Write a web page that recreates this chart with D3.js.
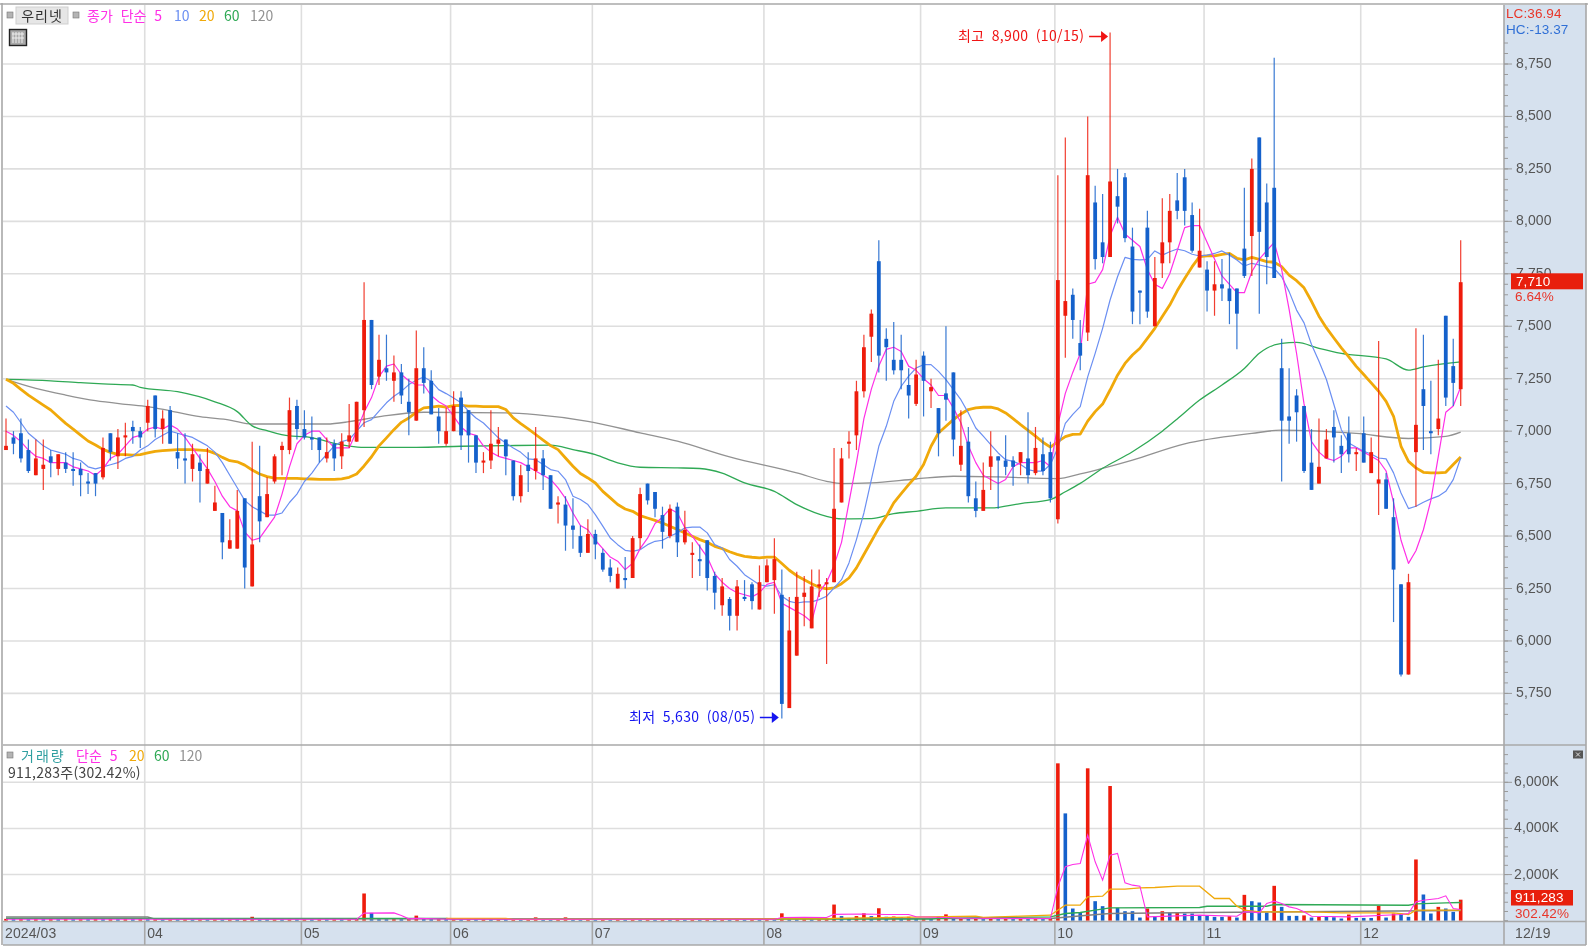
<!DOCTYPE html>
<html lang="ko">
<head>
<meta charset="utf-8">
<title>우리넷 일봉 차트</title>
<script src="https://cdn.jsdelivr.net/npm/d3@7"></script>
<style>
html,body{margin:0;padding:0;background:#fff;overflow:hidden}
svg{display:block;filter:blur(.35px)}
text{font-family:"Noto Sans CJK KR","Noto Sans",sans-serif;font-size:14px}
text.num{font-family:"Liberation Sans","Noto Sans",sans-serif}
</style>
</head>
<body>
<div id="chart"></div>
<script>
const high=[7060,7000,7060,6960,6960,6960,6910,6890,6900,6900,
6850,6800,6800,6970,6990,7010,7040,7050,7020,7150,
7170,7100,7120,6990,6990,6940,6890,6920,6740,6610,
6580,6720,6680,6950,6930,6780,6890,6950,7160,7150,
7100,7070,6970,6970,6960,6990,7130,7140,7710,7530,
7460,7460,7360,7320,7250,7480,7400,7290,7110,7110,
7190,7190,7100,6980,6900,7100,7020,6960,6860,6840,
6900,7020,6910,6790,6690,6690,6680,6550,6580,6530,
6440,6390,6350,6400,6500,6730,6750,6710,6640,6650,
6660,6620,6470,6460,6480,6330,6300,6210,6290,6290,
6280,6360,6390,6490,6340,6210,6330,6310,6340,6340,
6300,6920,6920,7000,7240,7460,7580,7910,7490,7520,
7460,7300,7340,7380,7250,7110,7500,7280,7100,7020,
6760,6850,7000,6880,6980,6880,6900,7090,7020,6970,
6950,8220,8400,7680,7530,8500,8170,8130,8900,8250,
8230,7970,7670,8050,7830,8110,8130,8230,8250,8090,
8060,7810,7810,7820,7850,7680,8160,8300,8400,8180,
8780,7440,7300,7200,7120,7010,7060,7010,7100,6980,
7070,6920,7070,6970,7430,6800,6680,6270,6320,7490,
7460,7240,7340,7550,7440,7910];
const low=[6910,6890,6850,6800,6790,6720,6780,6790,6800,6740,
6690,6700,6690,6770,6860,6820,6880,6940,6920,7000,
6970,6940,6940,6820,6750,6760,6660,6750,6620,6390,
6440,6440,6250,6260,6470,6590,6750,6790,6890,6960,
6960,6910,6850,6850,6810,6820,6920,6950,7020,7200,
7220,7240,7140,7130,6980,7050,7180,7080,6940,6930,
7000,6910,6850,6800,6800,6820,6880,6790,6670,6660,
6710,6770,6720,6630,6560,6430,6440,6400,6420,6390,
6330,6280,6250,6250,6300,6440,6650,6590,6440,6490,
6400,6460,6300,6310,6240,6150,6120,6050,6050,6190,
6150,6150,6280,6130,5630,5680,5930,6070,6060,6210,
5890,6280,6660,6870,6910,7160,7330,7280,7240,7270,
7200,7060,7120,7070,7110,6880,7050,6880,6810,6660,
6590,6620,6720,6630,6790,6740,6790,6750,6790,6790,
6660,6560,7350,7440,7290,7430,7770,7800,7830,7990,
7900,7510,7510,7540,7500,7730,7800,8010,7980,7850,
7780,7570,7550,7620,7510,7390,7730,7740,7560,7700,
7730,6760,6940,6950,6800,6720,6750,6870,6850,6800,
6850,6810,6850,6800,6600,6630,6090,5830,5840,6640,
6910,6890,6980,7120,7120,7120];
const open=[6910,6970,6990,6910,6790,6820,6880,6820,6850,6820,
6820,6760,6800,6780,6990,6880,6970,7020,7000,7040,
7170,7010,7100,6900,6870,6820,6850,6750,6620,6610,
6440,6440,6680,6260,6690,6590,6760,6910,6910,7120,
7010,6970,6970,6870,6940,6880,6950,6950,7100,7530,
7260,7300,7240,7280,7140,7050,7300,7240,7070,6940,
7000,7160,7100,6980,6850,6860,6940,6960,6860,6690,
6840,6810,6870,6790,6650,6650,6550,6500,6420,6510,
6420,6350,6250,6300,6300,6490,6750,6710,6600,6500,
6640,6470,6410,6390,6480,6310,6170,6200,6120,6210,
6270,6150,6280,6290,6220,5680,5930,6210,6060,6260,
6270,6280,6660,6940,6980,7190,7450,7810,7440,7340,
7340,7220,7130,7360,7190,7110,7180,7280,6840,6950,
6680,6620,6830,6880,6860,6860,6850,6870,6800,6890,
6900,6580,7550,7650,7420,7470,8090,7900,7830,8120,
8210,7880,7670,7970,7500,7800,7900,8100,8210,8030,
7780,7770,7670,7700,7680,7680,7870,7930,8400,8090,
8160,7300,7070,7170,7120,6850,6750,6870,7020,6930,
6990,6890,6990,6800,6750,6770,6590,6270,5840,6900,
7200,7000,7010,7550,7310,7200];
const close=[6930,6940,6870,6810,6870,6840,6850,6890,6820,6810,
6790,6750,6750,6920,6900,6970,6980,7000,6970,7120,
7010,7060,6940,6870,6860,6890,6810,6820,6660,6470,
6480,6620,6350,6460,6570,6700,6880,6930,7100,7010,
6970,6960,6910,6900,6870,6950,6980,7140,7530,7220,
7340,7280,7280,7170,7090,7300,7230,7080,7000,7000,
7120,6980,6980,6850,6860,6940,6960,6880,6690,6790,
6810,6870,6790,6630,6660,6550,6530,6420,6510,6460,
6340,6310,6320,6290,6490,6700,6670,6630,6520,6630,
6470,6530,6420,6380,6300,6230,6260,6120,6260,6200,
6190,6280,6360,6390,5700,6050,6210,6230,6260,6270,
6280,6630,6870,6950,7190,7400,7560,7360,7400,7290,
7290,7170,7270,7240,7210,6990,7150,6960,6930,6690,
6620,6720,6880,6860,6830,6830,6900,6790,6920,6810,
6680,7720,7620,7530,7360,8220,7820,7830,8190,8070,
7920,7570,7660,7570,7730,7900,8050,8050,8050,7860,
7860,7670,7700,7680,7620,7560,7740,8250,7950,7830,
7730,7050,7050,7090,6810,6720,6830,6960,6970,6890,
6890,6900,6850,6900,6770,6630,6340,5840,6280,7030,
7120,6990,7060,7160,7230,7710];
const ma5=[7000,6980,6950,6910,6880,6870,6850,6850,6850,6830,
6820,6810,6790,6820,6870,6890,6930,6970,6980,7010,
7020,7010,7030,7010,6970,6920,6870,6820,6760,6690,
6640,6620,6520,6480,6490,6540,6590,6700,6830,6940,
6980,7000,7000,6960,6920,6920,6920,7000,7090,7160,
7260,7310,7320,7270,7240,7220,7220,7170,7140,7120,
7070,7020,6990,6980,6930,6900,6880,6870,6860,6850,
6830,6810,6790,6770,6730,6680,6610,6550,6530,6480,
6440,6400,6380,6340,6370,6440,6490,6560,6590,6630,
6610,6540,6500,6450,6400,6320,6280,6250,6230,6220,
6210,6230,6270,6280,6180,6160,6140,6120,6090,6230,
6280,6360,6470,6660,6850,7060,7200,7310,7390,7400,
7380,7310,7290,7250,7220,7170,7170,7110,7040,6930,
6850,6790,6770,6750,6770,6830,6850,6850,6850,6860,
6830,7030,7180,7280,7370,7700,7710,7770,7930,8020,
7940,7910,7880,7770,7700,7680,7750,7860,7970,7980,
7980,7900,7820,7740,7700,7660,7660,7760,7820,7860,
7900,7770,7580,7370,7130,6950,6900,6870,6860,6880,
6920,6920,6900,6880,6860,6810,6660,6480,6370,6430,
6530,6670,6880,7090,7120,7210];
const ma10=[7120,7090,7040,6990,6960,6930,6910,6900,6890,6870,
6860,6830,6820,6830,6840,6850,6870,6880,6910,6930,
6960,6980,7000,6990,6980,6970,6950,6930,6900,6850,
6790,6730,6670,6640,6620,6600,6600,6610,6660,6700,
6760,6800,6850,6890,6930,6950,6960,7000,7040,7055,
7095,7135,7166,7190,7222,7243,7258,7238,7198,7179,
7158,7135,7095,7063,7039,7004,6968,6944,6920,6899,
6868,6864,6841,6817,6809,6769,6690,6674,6650,6602,
6547,6491,6459,6432,6427,6435,6459,6475,6480,6499,
6515,6539,6543,6543,6515,6459,6443,6388,6356,6316,
6292,6268,6261,6268,6213,6189,6181,6186,6186,6197,
6213,6253,6292,6372,6483,6610,6769,6928,7023,7142,
7214,7262,7301,7317,7317,7285,7246,7198,7150,7087,
7015,6976,6936,6896,6864,6856,6841,6817,6809,6809,
6841,6920,7037,7080,7117,7259,7371,7490,7625,7736,
7828,7819,7816,7819,7859,7839,7855,7868,7860,7843,
7835,7839,7847,7859,7839,7816,7787,7800,7792,7784,
7776,7736,7665,7577,7516,7413,7333,7246,7127,7007,
6944,6923,6904,6891,6872,6868,6801,6705,6631,6642,
6661,6677,6690,6713,6769,6872];
const ma20=[7247,7228,7199,7172,7148,7124,7101,7069,7037,7010,
6981,6953,6934,6913,6899,6889,6888,6886,6888,6896,
6904,6907,6910,6912,6912,6912,6910,6907,6894,6875,
6859,6854,6838,6815,6796,6783,6776,6775,6775,6775,
6773,6772,6770,6770,6770,6773,6780,6796,6834,6878,
6930,6968,7007,7042,7063,7090,7111,7115,7119,7115,
7122,7123,7119,7119,7117,7117,7117,7103,7063,7036,
7011,6984,6957,6931,6912,6872,6833,6798,6777,6753,
6713,6682,6650,6629,6618,6597,6586,6575,6562,6547,
6531,6515,6499,6483,6470,6451,6440,6425,6413,6403,
6399,6396,6400,6400,6369,6337,6311,6292,6273,6256,
6248,6253,6273,6300,6348,6412,6475,6539,6594,6658,
6702,6745,6785,6841,6928,6991,7023,7055,7082,7103,
7111,7114,7114,7106,7087,7060,7031,7004,6976,6947,
6924,6950,6974,6985,6986,7048,7093,7129,7196,7267,
7323,7363,7395,7442,7490,7546,7601,7669,7728,7784,
7832,7835,7835,7843,7847,7824,7816,7828,7819,7808,
7805,7784,7744,7717,7683,7619,7548,7492,7444,7397,
7354,7309,7270,7230,7190,7142,7071,6928,6856,6825,
6804,6801,6801,6804,6841,6877];
const ma60Idx=[0,6,10,13,17,18,23,28,31,33,35,38,40,42,44,46,48,55,61,67,73,76,79,82,85,90,93,96,99,103,106,110,112,116,119,122,126,132,136,140,142,144,147,151,155,157,160,163,166,168,169,171,173,176,179,185,188,190,195];
const ma60=[7247,7240,7231,7225,7220,7209,7188,7140,7093,7025,7002,6977,6974,6961,6942,6929,6923,6923,6928,6931,6933,6912,6888,6849,6828,6825,6822,6800,6753,6713,6650,6594,6582,6583,6607,6618,6634,6634,6655,6674,6711,6751,6823,6902,7000,7058,7148,7220,7299,7371,7395,7418,7423,7395,7371,7344,7291,7306,7330];
const ma120Idx=[0,4,8,12,16,19,22,26,30,33,43,46,49,51,56,67,71,78,85,90,97,106,110,112,116,122,127,133,141,144,151,158,167,171,181,188,193,195];
const ma120=[7247,7204,7172,7145,7128,7117,7097,7069,7053,7034,7034,7045,7063,7074,7090,7087,7079,7047,6992,6952,6877,6801,6761,6750,6753,6772,6785,6782,6774,6796,6862,6939,6989,7005,6989,6965,6975,6995];
const volume=[80,60,70,50,60,50,70,50,60,40,60,50,70,50,60,40,50,40,60,50,
60,40,60,50,70,50,60,40,50,40,60,50,70,170,60,50,60,40,50,40,60,50,70,50,60,40,60,70,
1180,340,60,50,70,50,60,220,70,50,60,40,60,50,70,50,60,40,60,50,70,50,60,145,60,50,70,145,60,50,60,40,
60,50,70,50,60,40,60,50,70,50,60,40,60,50,70,50,60,40,60,50,70,50,60,40,320,60,50,60,40,50,60,
700,200,120,200,320,200,540,170,180,160,170,100,110,90,170,275,90,100,70,90,60,80,60,70,50,70,50,60,50,70,
6822,4652,528,340,6606,846,630,5839,557,412,412,137,528,195,412,340,345,311,311,239,239,166,166,195,137,
1121,846,789,354,1512,600,210,210,230,137,166,160,150,94,268,123,120,118,644,137,311,300,166,2655,1136,311,600,528,383,911.283];
const volMa5Idx=[0,47,48,52,53,54,55,60,103,104,107,110,111,115,118,121,122,126,128,140,141,142,143,144,145,146,147,148,149,150,151,152,153,160,165,166,167,168,169,170,171,172,173,174,175,180,187,188,189,190,192,193,194,195];
const volMa5=[60,60,330,340,230,80,100,60,60,140,145,140,275,290,270,270,170,140,110,94,1469,2337,2438,2482,3712,2554,1758,2844,2916,1642,1541,1498,166,240,195,383,383,340,745,847,745,600,528,383,195,166,268,311,817,890,962,1078,528,485];
const volMa20Idx=[59,67,68,110,111,130,131,140,142,144,145,147,148,150,152,154,157,160,162,164,165,166,168,170,174,175,179,183,186,188,189,193,195];
const volMa20=[105,105,60,80,100,200,140,239,673,673,1035,1064,1367,1367,1425,1440,1498,1498,962,962,629,456,383,383,383,383,340,340,340,268,456,456,456];
const volMa60Idx=[0,59,60,124,125,140,142,144,146,148,160,161,169,170,188,189,193,195];
const volMa60=[100,100,70,70,100,166,311,354,456,557,571,629,629,702,673,731,774,789];
const volMa120Idx=[0,19,20,140,145,148,160,165,195];
const volMa120=[160,160,70,94,239,311,354,369,441];
const priceTicks=[5750,6000,6250,6500,6750,7000,7250,7500,7750,8000,8250,8500,8750];
const priceMinor=d3.range(5650,8851,50);
const volTicks=[2000,4000,6000];
const volMinor=d3.range(0,7201,400);
const monthIdx=[19,40,60,79,102,123,141,161,182];
const monthLabels=["04","05","06","07","08","09","10","11","12"];

const C={red:"#ee1c0c",blue:"#1561cb",ma5:"#ff2fe6",ma10:"#6b8ff2",ma20:"#f0a90a",ma60:"#2fa955",ma120:"#929292",
grid:"#dedede",frame:"#a8a8a8",panel:"#d6e1ee",tick:"#9a9a9a",text:"#555"};
const W=1593,H=947;
const plotL=3,plotR=1504,priceT=5,priceB=745,volB=921.5,axisB=945,panelR=1586;
const x=d3.scaleLinear([0,195],[6,1460.7]);
const y=d3.scaleLinear([5750,8750],[693.4,64]);
const yv=d3.scaleLinear([0,6000],[920.7,782.3]);

const svg=d3.select("#chart").append("svg").attr("width",W).attr("height",H).attr("viewBox",[0,0,W,H]);
const defs=svg.append("defs");
defs.append("clipPath").attr("id","cp").append("rect").attr("x",plotL).attr("y",priceT).attr("width",plotR-plotL).attr("height",priceB-priceT);
defs.append("clipPath").attr("id","cv").append("rect").attr("x",plotL).attr("y",priceB).attr("width",plotR-plotL).attr("height",volB-priceB);

// panels
svg.append("rect").attr("x",0).attr("y",0).attr("width",W).attr("height",H).attr("fill","#fff");
svg.append("rect").attr("x",plotR).attr("y",priceT).attr("width",panelR-plotR).attr("height",axisB-priceT).attr("fill",C.panel);
svg.append("rect").attr("x",plotL).attr("y",volB).attr("width",panelR-plotL).attr("height",axisB-volB).attr("fill",C.panel);

// grid
const grid=svg.append("g").attr("stroke",C.grid).attr("stroke-width",1.6);
grid.selectAll(".gp").data(priceTicks).join("line").attr("x1",plotL).attr("x2",plotR).attr("y1",d=>y(d)).attr("y2",d=>y(d));
grid.selectAll(".gv").data(volTicks).join("line").attr("x1",plotL).attr("x2",plotR).attr("y1",d=>yv(d)).attr("y2",d=>yv(d));
grid.selectAll(".gx").data(monthIdx).join("line").attr("x1",d=>x(d)-3).attr("x2",d=>x(d)-3).attr("y1",priceT).attr("y2",volB);

// moving averages under the candles
const lineI=(ix,vals,sy,curve)=>d3.line().curve(curve||d3.curveLinear).x((d,i)=>x(ix?ix[i]:i)).y(d=>sy(d))(vals);
const gp=svg.append("g").attr("clip-path","url(#cp)").attr("fill","none").attr("stroke-linejoin","round");
gp.append("path").attr("d",lineI(ma120Idx,ma120,y,d3.curveMonotoneX)).attr("stroke",C.ma120).attr("stroke-width",1.3);
gp.append("path").attr("d",lineI(ma60Idx,ma60,y,d3.curveMonotoneX)).attr("stroke",C.ma60).attr("stroke-width",1.3);
gp.append("path").attr("d",lineI(null,ma20,y)).attr("stroke",C.ma20).attr("stroke-width",2.8);
gp.append("path").attr("d",lineI(null,ma10,y)).attr("stroke",C.ma10).attr("stroke-width",1.2);
gp.append("path").attr("d",lineI(null,ma5,y)).attr("stroke",C.ma5).attr("stroke-width",1.2);

// candles
const gc=svg.append("g").attr("clip-path","url(#cp)");
const idx=d3.range(close.length);
const col=i=>close[i]>=open[i]?C.red:C.blue;
gc.selectAll(".w").data(idx).join("line").attr("x1",x).attr("x2",x)
 .attr("y1",i=>y(high[i])).attr("y2",i=>y(low[i])).attr("stroke",col).attr("stroke-width",1.2).attr("stroke-opacity",.85);
gc.selectAll(".b").data(idx).join("rect").attr("x",i=>x(i)-1.9).attr("width",3.8)
 .attr("y",i=>y(Math.max(open[i],close[i])))
 .attr("height",i=>Math.max(1.6,Math.abs(y(open[i])-y(close[i])))).attr("fill",col);

// volume
const gv=svg.append("g").attr("clip-path","url(#cv)");
gv.selectAll("rect").data(volume).join("rect").attr("x",(d,i)=>x(i)-1.8).attr("width",3.6)
 .attr("y",d=>Math.min(yv(d),yv(0)-1.5)).attr("height",d=>Math.max(1.5,yv(0)-yv(d)))
 .attr("fill",(d,i)=>i===0||d>volume[i-1]?C.red:C.blue);
const gvl=svg.append("g").attr("clip-path","url(#cv)").attr("fill","none");
gvl.append("path").attr("d",lineI(volMa120Idx,volMa120,yv)).attr("stroke","#808080").attr("stroke-width",1.4);
gvl.append("path").attr("d",lineI(volMa60Idx,volMa60,yv)).attr("stroke",C.ma60).attr("stroke-width",1.4);
gvl.append("path").attr("d",lineI(volMa20Idx,volMa20,yv)).attr("stroke",C.ma20).attr("stroke-width",1.3);
gvl.append("path").attr("d",lineI(volMa5Idx,volMa5,yv)).attr("stroke",C.ma5).attr("stroke-width",1.1);

// frames
const frame=svg.append("g").attr("stroke",C.frame).attr("stroke-width",1.6);
frame.append("line").attr("x1",0).attr("x2",panelR+2).attr("y1",priceT-1).attr("y2",priceT-1);
frame.append("line").attr("x1",plotL-1).attr("x2",plotL-1).attr("y1",priceT-2).attr("y2",axisB);
frame.append("line").attr("x1",plotR).attr("x2",plotR).attr("y1",priceT).attr("y2",axisB);
frame.append("line").attr("x1",panelR).attr("x2",panelR).attr("y1",priceT-2).attr("y2",axisB);
frame.append("line").attr("x1",plotL).attr("x2",panelR).attr("y1",priceB).attr("y2",priceB);
frame.append("line").attr("x1",plotL).attr("x2",panelR).attr("y1",volB).attr("y2",volB);
frame.append("line").attr("x1",plotL).attr("x2",panelR).attr("y1",axisB).attr("y2",axisB);
frame.selectAll(".m").data(monthIdx).join("line").attr("x1",d=>x(d)-3).attr("x2",d=>x(d)-3).attr("y1",volB).attr("y2",axisB);

// right axes
const ticks=svg.append("g").attr("stroke",C.tick).attr("stroke-width",1);
ticks.selectAll(".mn").data(priceMinor).join("line").attr("x1",plotR).attr("x2",plotR+4).attr("y1",d=>y(d)).attr("y2",d=>y(d));
ticks.selectAll(".mj").data(priceTicks).join("line").attr("x1",plotR).attr("x2",plotR+8).attr("y1",d=>y(d)).attr("y2",d=>y(d));
ticks.selectAll(".vm").data(volMinor).join("line").attr("x1",plotR).attr("x2",plotR+4).attr("y1",d=>yv(d)).attr("y2",d=>yv(d));
ticks.selectAll(".vj").data(volTicks).join("line").attr("x1",plotR).attr("x2",plotR+8).attr("y1",d=>yv(d)).attr("y2",d=>yv(d));

const label=(t,px,py,fill,anchor,size)=>svg.append("text").attr("x",px).attr("y",py).attr("fill",fill)
 .attr("dominant-baseline","central").attr("text-anchor",anchor||"start").style("font-size",(size||14)+"px").text(t);
const num=(t,px,py,fill,size)=>label(t,px,py,fill,"start",size||14).attr("class","num").attr("letter-spacing",.1);
priceTicks.forEach(p=>num(d3.format(",")(p),1516,y(p)-1,C.text));
volTicks.forEach(v=>num(d3.format(",")(v)+"K",1514,yv(v)-1,C.text));

// x labels
num("2024/03",5,933,C.text);
monthIdx.forEach((m,i)=>num(monthLabels[i],x(m)-0.5,933,C.text));
num("12/19",1515,933,C.text);

// top right readouts
num("LC:36.94",1506,13.5,"#e8362a",13.5);
num("HC:-13.37",1506,29,"#2f6fd6",13.5);
svg.append("rect").attr("x",1511).attr("y",273.3).attr("width",72).attr("height",16).attr("fill","#e81f0c");
num("7,710",1516,281,"#fff",13.5);
num("6.64%",1515,296.5,"#e8362a",13.5);
svg.append("rect").attr("x",1511).attr("y",890).attr("width",62).attr("height",15.5).attr("fill","#e81f0c");
num("911,283",1515,897.5,"#fff",13.5);
num("302.42%",1515,913,"#e8362a",13.5);

// legends
const sq=(px,py)=>svg.append("rect").attr("x",px).attr("y",py).attr("width",6).attr("height",6).attr("fill","#b4b4b4").attr("stroke","#777").attr("stroke-width",.6);
sq(7,12);sq(73,12);sq(7,752);
svg.append("rect").attr("x",16).attr("y",7).attr("width",52).attr("height",17).attr("fill","#e6e6e6").attr("stroke","#cfcfcf");
label("우리넷",42,15,"#333","middle").attr("letter-spacing",1);
label("종가 단순 5",87,15,C.ma5).attr("word-spacing",4);
label("10",174,15,C.ma10);
label("20",199,15,C.ma20);
label("60",224,15,C.ma60);
label("120",250,15,C.ma120);
const ic=svg.append("g");
ic.append("rect").attr("x",9.5).attr("y",29.5).attr("width",17).attr("height",16).attr("fill","#a8a8a8").attr("stroke","#222").attr("stroke-width",1.4);
[13,16,19,22].forEach(v=>ic.append("line").attr("x1",v).attr("x2",v).attr("y1",32).attr("y2",43).attr("stroke","#eee"));
[34,38].forEach(v=>ic.append("line").attr("x1",12).attr("x2",24).attr("y1",v).attr("y2",v).attr("stroke","#eee"));
label("거래량",21,755,"#2f9fa0").attr("letter-spacing",2);
label("단순 5",76,755,C.ma5).attr("word-spacing",4);
label("20",129,755,C.ma20);
label("60",154,755,C.ma60);
label("120",179,755,C.ma120);
label("911,283주(302.42%)",8,772,"#444").attr("letter-spacing",.25);

// volume panel close box
svg.append("rect").attr("x",1573).attr("y",750.5).attr("width",10).attr("height",8).attr("fill","#555");
svg.append("path").attr("d","M1576 752.5l4 4m0-4l-4 4").attr("stroke","#ddd").attr("fill","none");

// high/low annotations
const hiI=high.indexOf(d3.max(high)),loI=low.indexOf(d3.min(low));
label("최고 8,900 (10/15)",958,35,"#f01414").attr("word-spacing",3).attr("letter-spacing",.35);
svg.append("path").attr("d",`M${x(hiI)-21} 36.5H${x(hiI)-8}`).attr("stroke","#f01414").attr("stroke-width",1.5);
svg.append("path").attr("d",`M${x(hiI)-9} 31l7 5.5l-7 5.5z`).attr("fill","#f01414");
label("최저 5,630 (08/05)",629,716,"#1414f0").attr("word-spacing",3).attr("letter-spacing",.35);
svg.append("path").attr("d",`M${x(loI)-22} 717.5H${x(loI)-9}`).attr("stroke","#1414f0").attr("stroke-width",1.5);
svg.append("path").attr("d",`M${x(loI)-10} 712l7 5.5l-7 5.5z`).attr("fill","#1414f0");
</script>
</body>
</html>
